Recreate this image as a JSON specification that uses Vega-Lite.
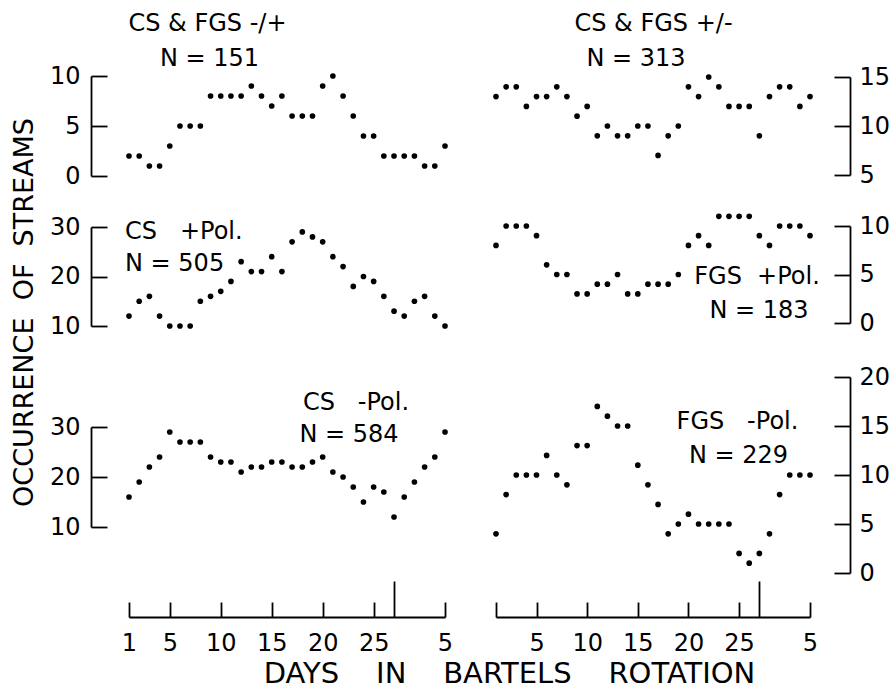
{
  "$schema": "https://vega.github.io/schema/vega-lite/v6.json",
  "width": 892,
  "height": 690,
  "autosize": {"type": "none"},
  "padding": 0,
  "background": "white",
  "config": {
    "view": {"stroke": null},
    "font": "DejaVu Sans",
    "axis": {
      "grid": false,
      "domainColor": "black",
      "domainWidth": 1.8,
      "tickColor": "black",
      "tickWidth": 1.8,
      "labelColor": "black",
      "labelFont": "DejaVu Sans",
      "labelFontSize": 24,
      "labelFlush": false,
      "labelOverlap": false,
      "titleColor": "black",
      "titleFont": "DejaVu Sans",
      "titleFontWeight": "normal"
    },
    "text": {"font": "DejaVu Sans", "fontSize": 24, "color": "black"}
  },
  "datasets": {
    "tl": [{"day":1,"n":2},{"day":2,"n":2},{"day":3,"n":1},{"day":4,"n":1},{"day":5,"n":3},{"day":6,"n":5},{"day":7,"n":5},{"day":8,"n":5},{"day":9,"n":8},{"day":10,"n":8},{"day":11,"n":8},{"day":12,"n":8},{"day":13,"n":9},{"day":14,"n":8},{"day":15,"n":7},{"day":16,"n":8},{"day":17,"n":6},{"day":18,"n":6},{"day":19,"n":6},{"day":20,"n":9},{"day":21,"n":10},{"day":22,"n":8},{"day":23,"n":6},{"day":24,"n":4},{"day":25,"n":4},{"day":26,"n":2},{"day":27,"n":2},{"day":28,"n":2},{"day":29,"n":2},{"day":30,"n":1},{"day":31,"n":1},{"day":32,"n":3}],
    "tr": [{"day":1,"n":13},{"day":2,"n":14},{"day":3,"n":14},{"day":4,"n":12},{"day":5,"n":13},{"day":6,"n":13},{"day":7,"n":14},{"day":8,"n":13},{"day":9,"n":11},{"day":10,"n":12},{"day":11,"n":9},{"day":12,"n":10},{"day":13,"n":9},{"day":14,"n":9},{"day":15,"n":10},{"day":16,"n":10},{"day":17,"n":7},{"day":18,"n":9},{"day":19,"n":10},{"day":20,"n":14},{"day":21,"n":13},{"day":22,"n":15},{"day":23,"n":14},{"day":24,"n":12},{"day":25,"n":12},{"day":26,"n":12},{"day":27,"n":9},{"day":28,"n":13},{"day":29,"n":14},{"day":30,"n":14},{"day":31,"n":12},{"day":32,"n":13}],
    "ml": [{"day":1,"n":12},{"day":2,"n":15},{"day":3,"n":16},{"day":4,"n":12},{"day":5,"n":10},{"day":6,"n":10},{"day":7,"n":10},{"day":8,"n":15},{"day":9,"n":16},{"day":10,"n":17},{"day":11,"n":19},{"day":12,"n":23},{"day":13,"n":21},{"day":14,"n":21},{"day":15,"n":24},{"day":16,"n":21},{"day":17,"n":27},{"day":18,"n":29},{"day":19,"n":28},{"day":20,"n":27},{"day":21,"n":24},{"day":22,"n":22},{"day":23,"n":18},{"day":24,"n":20},{"day":25,"n":19},{"day":26,"n":16},{"day":27,"n":13},{"day":28,"n":12},{"day":29,"n":15},{"day":30,"n":16},{"day":31,"n":12},{"day":32,"n":10}],
    "mr": [{"day":1,"n":8},{"day":2,"n":10},{"day":3,"n":10},{"day":4,"n":10},{"day":5,"n":9},{"day":6,"n":6},{"day":7,"n":5},{"day":8,"n":5},{"day":9,"n":3},{"day":10,"n":3},{"day":11,"n":4},{"day":12,"n":4},{"day":13,"n":5},{"day":14,"n":3},{"day":15,"n":3},{"day":16,"n":4},{"day":17,"n":4},{"day":18,"n":4},{"day":19,"n":5},{"day":20,"n":8},{"day":21,"n":9},{"day":22,"n":8},{"day":23,"n":11},{"day":24,"n":11},{"day":25,"n":11},{"day":26,"n":11},{"day":27,"n":9},{"day":28,"n":8},{"day":29,"n":10},{"day":30,"n":10},{"day":31,"n":10},{"day":32,"n":9}],
    "bl": [{"day":1,"n":16},{"day":2,"n":19},{"day":3,"n":22},{"day":4,"n":24},{"day":5,"n":29},{"day":6,"n":27},{"day":7,"n":27},{"day":8,"n":27},{"day":9,"n":24},{"day":10,"n":23},{"day":11,"n":23},{"day":12,"n":21},{"day":13,"n":22},{"day":14,"n":22},{"day":15,"n":23},{"day":16,"n":23},{"day":17,"n":22},{"day":18,"n":22},{"day":19,"n":23},{"day":20,"n":24},{"day":21,"n":21},{"day":22,"n":20},{"day":23,"n":18},{"day":24,"n":15},{"day":25,"n":18},{"day":26,"n":17},{"day":27,"n":12},{"day":28,"n":16},{"day":29,"n":19},{"day":30,"n":22},{"day":31,"n":24},{"day":32,"n":29}],
    "br": [{"day":1,"n":4},{"day":2,"n":8},{"day":3,"n":10},{"day":4,"n":10},{"day":5,"n":10},{"day":6,"n":12},{"day":7,"n":10},{"day":8,"n":9},{"day":9,"n":13},{"day":10,"n":13},{"day":11,"n":17},{"day":12,"n":16},{"day":13,"n":15},{"day":14,"n":15},{"day":15,"n":11},{"day":16,"n":9},{"day":17,"n":7},{"day":18,"n":4},{"day":19,"n":5},{"day":20,"n":6},{"day":21,"n":5},{"day":22,"n":5},{"day":23,"n":5},{"day":24,"n":5},{"day":25,"n":2},{"day":26,"n":1},{"day":27,"n":2},{"day":28,"n":4},{"day":29,"n":8},{"day":30,"n":10},{"day":31,"n":10},{"day":32,"n":10}]
  },
  "layer": [
    {
      "data": {"name": "tl"},
      "mark": {"type": "circle", "size": 32, "color": "black", "opacity": 1},
      "encoding": {
        "x": {"field": "day", "type": "quantitative", "scale": {"domain": [1, 32], "range": [129, 445], "nice": false, "zero": false}, "axis": null},
        "y": {"field": "n", "type": "quantitative", "scale": {"domain": [0, 10], "range": [176, 76], "nice": false, "zero": false},
              "axis": {"orient": "left", "values": [0, 5, 10], "format": "d", "title": null, "offset": -91, "tickSize": -16, "labelPadding": 27}}
      }
    },
    {
      "data": {"name": "tr"},
      "mark": {"type": "circle", "size": 32, "color": "black", "opacity": 1},
      "encoding": {
        "x": {"field": "day", "type": "quantitative", "scale": {"domain": [1, 32], "range": [496, 810], "nice": false, "zero": false}, "axis": null},
        "y": {"field": "n", "type": "quantitative", "scale": {"domain": [5, 15], "range": [175, 77], "nice": false, "zero": false},
              "axis": {"orient": "right", "values": [5, 10, 15], "format": "d", "title": null, "offset": -42, "tickSize": -16, "labelPadding": 25}}
      }
    },
    {
      "data": {"name": "ml"},
      "mark": {"type": "circle", "size": 32, "color": "black", "opacity": 1},
      "encoding": {
        "x": {"field": "day", "type": "quantitative", "scale": {"domain": [1, 32], "range": [129, 445], "nice": false, "zero": false}, "axis": null},
        "y": {"field": "n", "type": "quantitative", "scale": {"domain": [10, 30], "range": [326, 227], "nice": false, "zero": false},
              "axis": {"orient": "left", "values": [10, 20, 30], "format": "d", "offset": -91, "tickSize": -16, "labelPadding": 27,
                       "title": "OCCURRENCE\u00a0 OF\u00a0 STREAMS", "titleFontSize": 27, "titleX": -67, "titleY": 312, "titleAngle": -90, "titleAlign": "center", "titleBaseline": "middle"}}
      }
    },
    {
      "data": {"name": "mr"},
      "mark": {"type": "circle", "size": 32, "color": "black", "opacity": 1},
      "encoding": {
        "x": {"field": "day", "type": "quantitative", "scale": {"domain": [1, 32], "range": [496, 810], "nice": false, "zero": false}, "axis": null},
        "y": {"field": "n", "type": "quantitative", "scale": {"domain": [0, 10], "range": [323, 226], "nice": false, "zero": false},
              "axis": {"orient": "right", "values": [0, 5, 10], "format": "d", "title": null, "offset": -42, "tickSize": -16, "labelPadding": 25}}
      }
    },
    {
      "data": {"name": "bl"},
      "mark": {"type": "circle", "size": 32, "color": "black", "opacity": 1},
      "encoding": {
        "x": {"field": "day", "type": "quantitative", "scale": {"domain": [1, 32], "range": [129, 445], "nice": false, "zero": false},
              "axis": {"orient": "bottom", "values": [1, 5, 10, 15, 20, 25, 27, 32], "offset": -73,
                       "tickSize": {"condition": {"test": "datum.value == 27", "value": -36}, "value": -15},
                       "labelPadding": 29,
                       "labelExpr": "datum.value == 32 ? '5' : (datum.value == 27 ? '' : datum.label)",
                       "title": "DAYS\u00a0\u00a0\u00a0 IN\u00a0\u00a0\u00a0 BARTELS\u00a0\u00a0\u00a0 ROTATION", "titleFontSize": 29, "titleX": 509, "titleY": 56, "titleAlign": "center", "titleBaseline": "middle"}},
        "y": {"field": "n", "type": "quantitative", "scale": {"domain": [10, 30], "range": [527, 427], "nice": false, "zero": false},
              "axis": {"orient": "left", "values": [10, 20, 30], "format": "d", "title": null, "offset": -91, "tickSize": -16, "labelPadding": 27}}
      }
    },
    {
      "data": {"name": "br"},
      "mark": {"type": "circle", "size": 32, "color": "black", "opacity": 1},
      "encoding": {
        "x": {"field": "day", "type": "quantitative", "scale": {"domain": [1, 32], "range": [496, 810], "nice": false, "zero": false},
              "axis": {"orient": "bottom", "values": [1, 5, 10, 15, 20, 25, 27, 32], "offset": -73,
                       "tickSize": {"condition": {"test": "datum.value == 27", "value": -36}, "value": -15},
                       "labelPadding": 29, "title": null,
                       "labelExpr": "datum.value == 32 ? '5' : ((datum.value == 27 || datum.value == 1) ? '' : datum.label)"}},
        "y": {"field": "n", "type": "quantitative", "scale": {"domain": [0, 20], "range": [573, 377], "nice": false, "zero": false},
              "axis": {"orient": "right", "values": [0, 5, 10, 15, 20], "format": "d", "title": null, "offset": -42, "tickSize": -16, "labelPadding": 25}}
      }
    },
    {
      "data": {"values": [{}]},
      "mark": {"type": "text", "text": "CS & FGS -/+", "align": "center", "baseline": "middle"},
      "encoding": {
        "x": {"datum": 8.7, "type": "quantitative", "scale": {"domain": [1, 32], "range": [129, 445]}, "axis": null},
        "y": {"datum": 15.25, "type": "quantitative", "scale": {"domain": [0, 10], "range": [176, 76]}, "axis": null}
      }
    },
    {
      "data": {"values": [{}]},
      "mark": {"type": "text", "text": "N = 151", "align": "center", "baseline": "middle"},
      "encoding": {
        "x": {"datum": 8.9, "type": "quantitative", "scale": {"domain": [1, 32], "range": [129, 445]}, "axis": null},
        "y": {"datum": 11.7, "type": "quantitative", "scale": {"domain": [0, 10], "range": [176, 76]}, "axis": null}
      }
    },
    {
      "data": {"values": [{}]},
      "mark": {"type": "text", "text": "CS & FGS +/-", "align": "center", "baseline": "middle"},
      "encoding": {
        "x": {"datum": 16.55, "type": "quantitative", "scale": {"domain": [1, 32], "range": [496, 810]}, "axis": null},
        "y": {"datum": 20.41, "type": "quantitative", "scale": {"domain": [5, 15], "range": [175, 77], "zero": false}, "axis": null}
      }
    },
    {
      "data": {"values": [{}]},
      "mark": {"type": "text", "text": "N = 313", "align": "center", "baseline": "middle"},
      "encoding": {
        "x": {"datum": 14.82, "type": "quantitative", "scale": {"domain": [1, 32], "range": [496, 810]}, "axis": null},
        "y": {"datum": 16.84, "type": "quantitative", "scale": {"domain": [5, 15], "range": [175, 77], "zero": false}, "axis": null}
      }
    },
    {
      "data": {"values": [{}]},
      "mark": {"type": "text", "text": "CS\u00a0\u00a0 +Pol.", "align": "left", "baseline": "middle"},
      "encoding": {
        "x": {"datum": 0.61, "type": "quantitative", "scale": {"domain": [1, 32], "range": [129, 445]}, "axis": null},
        "y": {"datum": 28.99, "type": "quantitative", "scale": {"domain": [10, 30], "range": [326, 227], "zero": false}, "axis": null}
      }
    },
    {
      "data": {"values": [{}]},
      "mark": {"type": "text", "text": "N = 505", "align": "left", "baseline": "middle"},
      "encoding": {
        "x": {"datum": 0.61, "type": "quantitative", "scale": {"domain": [1, 32], "range": [129, 445]}, "axis": null},
        "y": {"datum": 22.5, "type": "quantitative", "scale": {"domain": [10, 30], "range": [326, 227], "zero": false}, "axis": null}
      }
    },
    {
      "data": {"values": [{}]},
      "mark": {"type": "text", "text": "FGS\u00a0 +Pol.", "align": "center", "baseline": "middle"},
      "encoding": {
        "x": {"datum": 26.77, "type": "quantitative", "scale": {"domain": [1, 32], "range": [496, 810]}, "axis": null},
        "y": {"datum": 4.74, "type": "quantitative", "scale": {"domain": [0, 10], "range": [323, 226]}, "axis": null}
      }
    },
    {
      "data": {"values": [{}]},
      "mark": {"type": "text", "text": "N = 183", "align": "center", "baseline": "middle"},
      "encoding": {
        "x": {"datum": 26.97, "type": "quantitative", "scale": {"domain": [1, 32], "range": [496, 810]}, "axis": null},
        "y": {"datum": 1.24, "type": "quantitative", "scale": {"domain": [0, 10], "range": [323, 226]}, "axis": null}
      }
    },
    {
      "data": {"values": [{}]},
      "mark": {"type": "text", "text": "CS\u00a0\u00a0 -Pol.", "align": "center", "baseline": "middle"},
      "encoding": {
        "x": {"datum": 23.27, "type": "quantitative", "scale": {"domain": [1, 32], "range": [129, 445]}, "axis": null},
        "y": {"datum": 34.8, "type": "quantitative", "scale": {"domain": [10, 30], "range": [527, 427], "zero": false}, "axis": null}
      }
    },
    {
      "data": {"values": [{}]},
      "mark": {"type": "text", "text": "N = 584", "align": "center", "baseline": "middle"},
      "encoding": {
        "x": {"datum": 22.58, "type": "quantitative", "scale": {"domain": [1, 32], "range": [129, 445]}, "axis": null},
        "y": {"datum": 28.4, "type": "quantitative", "scale": {"domain": [10, 30], "range": [527, 427], "zero": false}, "axis": null}
      }
    },
    {
      "data": {"values": [{}]},
      "mark": {"type": "text", "text": "FGS\u00a0\u00a0 -Pol.", "align": "center", "baseline": "middle"},
      "encoding": {
        "x": {"datum": 24.84, "type": "quantitative", "scale": {"domain": [1, 32], "range": [496, 810]}, "axis": null},
        "y": {"datum": 15.41, "type": "quantitative", "scale": {"domain": [0, 20], "range": [573, 377]}, "axis": null}
      }
    },
    {
      "data": {"values": [{}]},
      "mark": {"type": "text", "text": "N = 229", "align": "center", "baseline": "middle"},
      "encoding": {
        "x": {"datum": 24.94, "type": "quantitative", "scale": {"domain": [1, 32], "range": [496, 810]}, "axis": null},
        "y": {"datum": 11.94, "type": "quantitative", "scale": {"domain": [0, 20], "range": [573, 377]}, "axis": null}
      }
    }
  ],
  "resolve": {"scale": {"x": "independent", "y": "independent"}, "axis": {"x": "independent", "y": "independent"}}
}
